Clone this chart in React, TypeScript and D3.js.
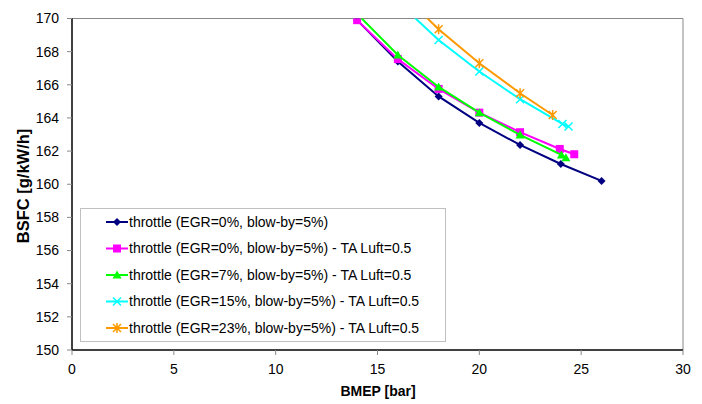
import React from "react";
import * as d3 from "d3";

const xTicks = [0, 5, 10, 15, 20, 25, 30];
const yTicks = [150, 152, 154, 156, 158, 160, 162, 164, 166, 168, 170];

const seriesNames = [
  "throttle (EGR=0%, blow-by=5%)",
  "throttle (EGR=0%, blow-by=5%) - TA Luft=0.5",
  "throttle (EGR=7%, blow-by=5%) - TA Luft=0.5",
  "throttle (EGR=15%, blow-by=5%) - TA Luft=0.5",
  "throttle (EGR=23%, blow-by=5%) - TA Luft=0.5",
];
const seriesColors = ["#000080", "#FF00FF", "#00FF00", "#00FFFF", "#FF9900"];
const seriesMarkers = ["diamond", "square", "triangle", "x", "star"];

const bmep0 = [14, 16, 18, 20, 22, 24, 26];
const bsfc0 = [169.9, 167.4, 165.3, 163.7, 162.37, 161.22, 160.2];
const bmep1 = [14, 16, 18, 20, 22, 23.95, 24.66];
const bsfc1 = [169.9, 167.55, 165.75, 164.32, 163.14, 162.13, 161.81];
const bmep2 = [14, 16, 18, 20, 22, 24.03, 24.25];
const bsfc2 = [170.28, 167.8, 165.87, 164.32, 162.98, 161.77, 161.6];
const bmep3 = [16, 18, 20, 22, 24.08, 24.38];
const bsfc3 = [171.0, 168.7, 166.8, 165.13, 163.64, 163.48];
const bmep4 = [16, 18, 20, 22, 23.6];
const bsfc4 = [171.75, 169.35, 167.3, 165.49, 164.18];

const seriesX = [bmep0, bmep1, bmep2, bmep3, bmep4];
const seriesY = [bsfc0, bsfc1, bsfc2, bsfc3, bsfc4];

const L = 72, R = 683, T = 18.5, B = 350;
const FONT = "'Liberation Sans', Arial, sans-serif";

function Marker({ type, x, y, color }: { type: string; x: number; y: number; color: string }) {
  if (type === "diamond") {
    const s = 4;
    return <path d={`M${x},${y - s}L${x + s},${y}L${x},${y + s}L${x - s},${y}Z`} fill={color} />;
  }
  if (type === "square") {
    const s = 4;
    return <rect x={x - s} y={y - s} width={2 * s} height={2 * s} fill={color} />;
  }
  if (type === "triangle") {
    const s = 4.5;
    return <path d={`M${x},${y - s}L${x + s},${y + s * 0.8}L${x - s},${y + s * 0.8}Z`} fill={color} />;
  }
  if (type === "x") {
    const s = 4;
    return (
      <path d={`M${x - s},${y - s}L${x + s},${y + s}M${x - s},${y + s}L${x + s},${y - s}`} stroke={color} strokeWidth={1.5} fill="none" />
    );
  }
  const s = 4;
  return (
    <path
      d={`M${x - s},${y - s}L${x + s},${y + s}M${x - s},${y + s}L${x + s},${y - s}M${x},${y - s - 1}L${x},${y + s + 1}`}
      stroke={color}
      strokeWidth={1.5}
      fill="none"
    />
  );
}

export default function App() {
  const x = d3.scaleLinear().domain([0, 30]).range([L, R]);
  const y = d3.scaleLinear().domain([150, 170]).range([B, T]);
  const line = d3
    .line<[number, number]>()
    .x((d) => x(d[0]))
    .y((d) => y(d[1]));

  const legendRows = [222, 248.5, 275, 301.5, 328];

  return (
    <svg
      width={702}
      height={404}
      style={{ position: "absolute", left: 0, top: 0, background: "#fff" }}
      fontFamily={FONT}
    >
      <defs>
        <clipPath id="plotclip">
          <rect x={L} y={T} width={R - L} height={B - T} />
        </clipPath>
      </defs>
      <rect width={702} height={404} fill="#fff" />
      {/* plot border */}
      <path d={`M${L},${T}H${R}V${B}`} stroke="#888" strokeWidth={1} fill="none" />
      {/* series */}
      <g clipPath="url(#plotclip)">
        {seriesX.map((xs, i) => {
          const pts = xs.map((v, j) => [v, seriesY[i][j]] as [number, number]);
          return (
            <g key={i}>
              <path d={line(pts) || ""} stroke={seriesColors[i]} strokeWidth={2} fill="none" />
              {pts.map((p, j) => (
                <Marker key={j} type={seriesMarkers[i]} x={x(p[0])} y={y(p[1])} color={seriesColors[i]} />
              ))}
            </g>
          );
        })}
      </g>
      {/* axes */}
      <line x1={L} y1={T} x2={L} y2={B} stroke="#000" strokeWidth={1.5} />
      <line x1={L} y1={B} x2={R} y2={B} stroke="#000" strokeWidth={1.5} />
      {yTicks.map((t) => (
        <g key={t}>
          <line x1={L - 5} x2={L} y1={y(t)} y2={y(t)} stroke="#888" />
          <text x={L - 13} y={y(t)} dy="0.35em" textAnchor="end" fontSize={14} fill="#000">
            {t}
          </text>
        </g>
      ))}
      {xTicks.map((t) => (
        <g key={t}>
          <line x1={x(t)} x2={x(t)} y1={B} y2={B + 5} stroke="#888" />
          <text x={x(t)} y={B + 24} textAnchor="middle" fontSize={14} fill="#000">
            {t}
          </text>
        </g>
      ))}
      <text x={378} y={396} textAnchor="middle" fontSize={14} fontWeight="bold" fill="#000">
        BMEP [bar]
      </text>
      <text
        transform={`translate(29,186) rotate(-90)`}
        textAnchor="middle"
        fontSize={16.5}
        fontWeight="bold"
        fill="#000"
      >
        BSFC [g/kW/h]
      </text>
      {/* legend */}
      <rect x={80.5} y={208.5} width={365} height={133} fill="#fff" stroke="#c0c0c0" strokeWidth={1} />
      {seriesNames.map((n, i) => (
        <g key={i}>
          <line x1={106} x2={128} y1={legendRows[i]} y2={legendRows[i]} stroke={seriesColors[i]} strokeWidth={2} />
          <Marker type={seriesMarkers[i]} x={117} y={legendRows[i]} color={seriesColors[i]} />
          <text x={129} y={legendRows[i]} dy="0.35em" fontSize={14} fill="#000">
            {n}
          </text>
        </g>
      ))}
    </svg>
  );
}
